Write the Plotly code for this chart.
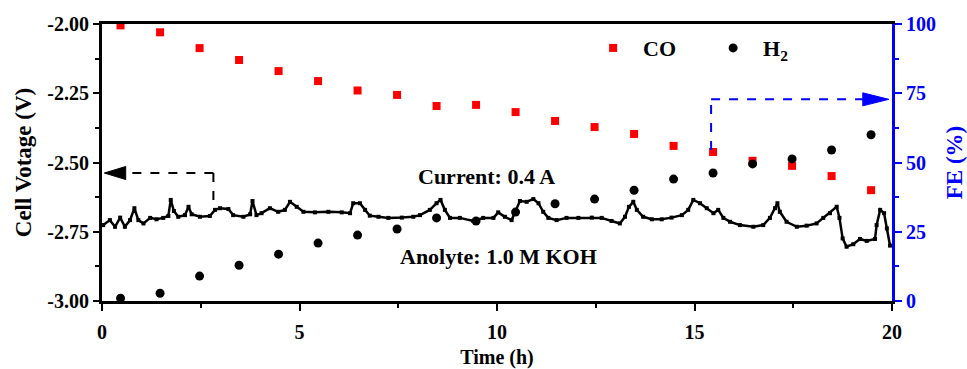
import plotly.graph_objects as go

# ---- data ----
fe_time = [0.47, 1.47, 2.47, 3.47, 4.47, 5.47, 6.47, 7.47, 8.47, 9.47,
           10.47, 11.47, 12.47, 13.47, 14.47, 15.47, 16.47, 17.47, 18.47, 19.47]
fe_co = [99.5, 97, 91.3, 87, 83, 79.4, 76, 74.4, 70.4, 70.8,
         68.2, 65, 62.8, 60.3, 56, 53.8, 50.6, 48.8, 45.1, 40]
fe_h2 = [1, 2.8, 9, 12.9, 16.9, 20.9, 23.8, 26, 30, 28.9,
         32.1, 35.1, 36.8, 40, 44, 46.2, 49.5, 51.3, 54.5, 60]

trace_t = [0.03, 0.2, 0.33, 0.46, 0.58, 0.71, 0.82, 0.92, 1.05, 1.22, 1.38, 1.55, 1.68, 1.74,
           1.82, 1.93, 2.10, 2.19, 2.27, 2.48, 2.73, 2.86, 2.99, 3.2, 3.32, 3.58, 3.75, 3.81,
           3.91, 4.04, 4.25, 4.46, 4.63, 4.76, 4.93, 5.1, 5.39, 5.73, 6.07, 6.28, 6.36, 6.53,
           6.66, 6.78, 7.0, 7.25, 7.59, 7.88, 8.05, 8.3, 8.47, 8.57, 8.68, 8.81, 9.06, 9.4,
           9.65, 9.91, 10.03, 10.2, 10.37, 10.46, 10.58, 10.75, 10.92, 11.05, 11.17, 11.3,
           11.51, 11.76, 12.06, 12.4, 12.65, 12.9, 13.11, 13.24, 13.34, 13.45, 13.54, 13.7,
           13.92, 14.17, 14.42, 14.68, 14.84, 14.97, 15.14, 15.31, 15.48, 15.6, 15.73, 15.9,
           16.15, 16.49, 16.74, 16.91, 17.04, 17.1, 17.16, 17.33, 17.59, 17.84, 18.09, 18.26,
           18.43, 18.6, 18.67, 18.75, 18.85, 19.02, 19.19, 19.36, 19.57, 19.61, 19.7, 19.8,
           19.87, 19.95]
trace_v = [-2.726, -2.708, -2.732, -2.699, -2.732, -2.708, -2.665, -2.708, -2.72, -2.70,
           -2.705, -2.70, -2.693, -2.635, -2.675, -2.696, -2.69, -2.66, -2.687, -2.696,
           -2.693, -2.671, -2.665, -2.668, -2.69, -2.696, -2.687, -2.639, -2.69, -2.683,
           -2.665, -2.678, -2.671, -2.642, -2.66, -2.678, -2.68, -2.678, -2.68, -2.683,
           -2.647, -2.647, -2.671, -2.692, -2.696, -2.70, -2.699, -2.696, -2.69, -2.671,
           -2.647, -2.635, -2.671, -2.70, -2.70, -2.711, -2.70, -2.70, -2.68, -2.696,
           -2.708, -2.678, -2.639, -2.642, -2.632, -2.647, -2.678, -2.70, -2.708, -2.70,
           -2.70, -2.699, -2.70, -2.711, -2.72, -2.696, -2.66, -2.642, -2.671, -2.696,
           -2.705, -2.705, -2.699, -2.69, -2.671, -2.635, -2.647, -2.665, -2.683, -2.671,
           -2.70, -2.714, -2.726, -2.732, -2.726, -2.70, -2.665, -2.647, -2.678, -2.714,
           -2.732, -2.728, -2.72, -2.70, -2.683, -2.66, -2.70, -2.774, -2.804, -2.795,
           -2.776, -2.783, -2.776, -2.726, -2.671, -2.683, -2.738, -2.80]

x_ticks = [0, 5, 10, 15, 20]
y_ticks = [-3.0, -2.75, -2.5, -2.25, -2.0]
y_ticktext = ["-3.00", "-2.75", "-2.50", "-2.25", "-2.00"]
y2_ticks = [0, 25, 50, 75, 100]

FONT = "Liberation Serif"
BLUE = "#0000ff"
RED = "#ff0000"

fig = go.Figure()
fig.add_trace(go.Scatter(x=trace_t, y=trace_v, mode="lines+markers",
                         line=dict(color="black", width=2.5),
                         marker=dict(symbol="square", size=4, color="black"),
                         showlegend=False, yaxis="y"))
fig.add_trace(go.Scatter(x=fe_time, y=fe_co, mode="markers", name="CO",
                         marker=dict(symbol="square", size=8, color=RED),
                         yaxis="y2"))
fig.add_trace(go.Scatter(x=fe_time, y=fe_h2, mode="markers", name="H<sub>2</sub>",
                         marker=dict(symbol="circle", size=9, color="black"),
                         yaxis="y2"))

tf = dict(family=FONT, size=20, color="black", weight="bold")

fig.update_layout(
    width=967, height=369,
    margin=dict(l=102, r=75, t=24, b=68),
    paper_bgcolor="white", plot_bgcolor="white",
    font=dict(family=FONT, color="black"),
    xaxis=dict(range=[0, 20], tickvals=x_ticks, ticks="outside", ticklen=7, tickwidth=2,
               tickcolor="black", showline=True, linecolor="black", linewidth=3,
               mirror=True, showgrid=False, zeroline=False, tickfont=tf, automargin=False,
               ticklabelstandoff=4,
               minor=dict(ticks="outside", ticklen=4, tickwidth=2, dtick=2.5, tickcolor="black"),
               title=dict(text="Time (h)", font=dict(family=FONT, size=20, weight="bold"),
                          standoff=8)),
    yaxis=dict(range=[-3, -2], tickvals=y_ticks, ticktext=y_ticktext, ticks="outside",
               ticklen=6, tickwidth=2, tickcolor="black", showline=True, linecolor="black",
               linewidth=3, showgrid=False, zeroline=False, tickfont=tf, automargin=False,
               minor=dict(ticks="outside", ticklen=4, tickwidth=2, dtick=0.125,
                          tickcolor="black"),
               title=dict(text="Cell Votage (V)",
                          font=dict(family=FONT, size=23, weight="bold"), standoff=10)),
    yaxis2=dict(range=[0, 100], tickvals=y2_ticks, overlaying="y", side="right",
                anchor="x", ticks="outside", ticklen=7, tickwidth=2, tickcolor=BLUE,
                showline=True, linecolor=BLUE, linewidth=3, showgrid=False, zeroline=False,
                automargin=False,
                tickfont=dict(family=FONT, size=20, color=BLUE, weight="bold"),
                minor=dict(ticks="outside", ticklen=4, tickwidth=2, dtick=12.5, tickcolor=BLUE),
                title=dict(text="FE (%)", font=dict(family=FONT, size=23, color=BLUE,
                                                    weight="bold"), standoff=12)),
    legend=dict(orientation="h", x=0.609, y=0.913, xanchor="left", yanchor="middle",
                font=dict(family=FONT, size=22, weight="bold", color="black"),
                entrywidth=55, entrywidthmode="pixels", bgcolor="rgba(0,0,0,0)",
                itemwidth=50),
)

# annotations (text)
fig.add_annotation(x=9.74, y=-2.552, xref="x", yref="y", text="Current: 0.4 A",
                   showarrow=False, font=dict(family=FONT, size=22, weight="bold"))
fig.add_annotation(x=10.03, y=-2.84, xref="x", yref="y", text="Anolyte: 1.0 M KOH",
                   showarrow=False, font=dict(family=FONT, size=22, weight="bold"))

# black dashed arrow to the left axis
fig.add_shape(type="line", xref="x", yref="y", x0=2.82, y0=-2.538, x1=0.6, y1=-2.538,
              line=dict(color="black", width=2, dash="dash"))
fig.add_shape(type="line", xref="x", yref="y", x0=2.82, y0=-2.538, x1=2.82, y1=-2.665,
              line=dict(color="black", width=2, dash="dash"))
fig.add_shape(type="path", xref="x", yref="y",
              path="M 0.06,-2.538 L 0.6,-2.5145 L 0.6,-2.5615 Z",
              fillcolor="black", line=dict(color="black", width=1))

# blue dashed arrow to the right axis
fig.add_shape(type="line", xref="x", yref="y2", x0=15.42, y0=54.5, x1=15.42, y1=72.8,
              line=dict(color=BLUE, width=2, dash="dash"))
fig.add_shape(type="line", xref="x", yref="y2", x0=15.42, y0=72.8, x1=19.26, y1=72.8,
              line=dict(color=BLUE, width=2, dash="dash"))
fig.add_shape(type="path", xref="x", yref="y2",
              path="M 19.92,72.8 L 19.26,75.15 L 19.26,70.45 Z",
              fillcolor=BLUE, line=dict(color=BLUE, width=1))

fig.write_html("out.html")
